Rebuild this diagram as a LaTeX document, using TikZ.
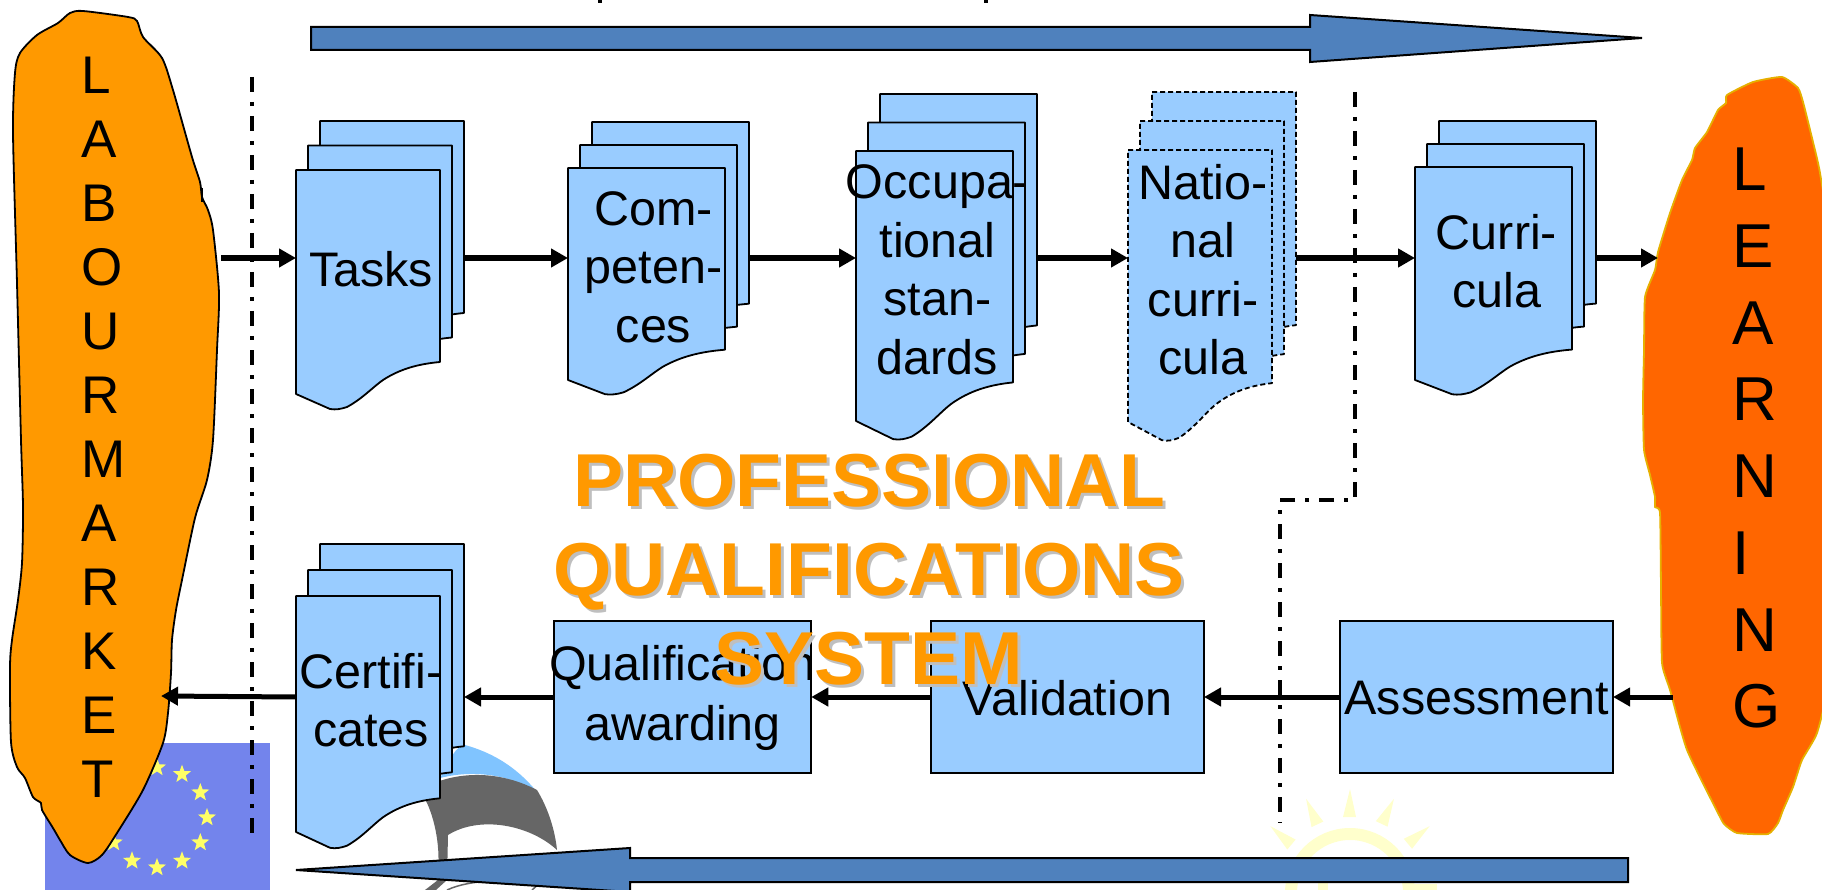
\documentclass[tikz,border=0pt]{standalone}
\usepackage{fontspec}
\setmainfont{Liberation Sans}
\usetikzlibrary{arrows.meta}
\usetikzlibrary{shapes.geometric}
\definecolor{sheetblue}{HTML}{99CCFF}
\definecolor{arrowblue}{HTML}{4F81BD}
\definecolor{marketorange}{HTML}{FF9900}
\definecolor{learnorange}{HTML}{FF6600}
\definecolor{learnedge}{HTML}{E6B000}
\definecolor{flagblue}{HTML}{7384EC}
\definecolor{flagstar}{HTML}{FFFF66}
\definecolor{swooshblue}{HTML}{80C4FF}
\definecolor{swooshgrey}{HTML}{666666}
\definecolor{sunyellow}{HTML}{FFFFCC}
\tikzset{sheet/.style={draw, fill=sheetblue, line width=1.8pt, line join=round}}
\tikzset{sheetarea/.style={rectangle, inner sep=0pt, outer sep=0pt}}
\tikzset{boxtext/.style={align=center, yshift=-1pt, font=\fontsize{48.5}{60}\selectfont}}
\tikzset{sheettext/.style={align=center, xshift=3pt, yshift=-3pt, font=\fontsize{48.5}{58.5}\selectfont}}
\tikzset{cell/.style={rectangle, draw, fill=sheetblue, line width=2pt, inner sep=0pt, outer sep=0pt}}
\tikzset{flow/.style={line width=5pt, -{Triangle[length=17pt,width=18pt]}}}
\tikzset{flowtop/.style={flow, line width=6pt, -{Triangle[length=17pt,width=18pt]}}}
\tikzset{gate/.style={line width=4.5pt, dash pattern=on 15pt off 10pt on 4pt off 10pt}}
\tikzset{blockarrow/.style={draw, fill=arrowblue, line width=2pt, line join=miter}}
\tikzset{eustar/.style={star, star points=5, star point ratio=2.4, fill=flagstar, inner sep=0pt, minimum size=19pt}}
\tikzset{sunray/.style={fill=sunyellow}}
\tikzset{title/.style={align=center, font=\fontsize{75}{89}\bfseries\selectfont}}
\newcommand{\docsheet}[5][]{
    \draw[sheet, #1, shift={(#2,#3)}, xscale=#4/144, yscale=#5/224]
        (0,0) -- (144,0) -- (144,192)
        .. controls (122,194) and (104,199) .. (87,210)
        .. controls (77,217) and (66,229) .. (51,237)
        .. controls (45,239) and (40,240) .. (34,239)
        -- (0,224) -- cycle;
}
\newcommand{\docstack}[8][]{
    \docsheet[#1]{#3+24}{#4-2*#7}{#5}{#6}
    \docsheet[#1]{#3+12}{#4-#7}{#5}{#6}
    \docsheet[#1]{#3}{#4}{#5}{#6}
    \node[sheetarea, minimum width=#5 pt, minimum height={0.857*#6 pt}] (#2-back) at (#3+24+#5/2, #4-2*#7+0.4285*#6) {};
    \node[sheetarea, minimum width=#5 pt, minimum height={0.857*#6 pt}, label={[sheettext]center:#8}] (#2) at (#3+#5/2, #4+0.4285*#6) {};
}
\begin{document}
\begin{tikzpicture}[x=1pt, y=-1pt]

    \useasboundingbox (0,0) rectangle (1822,890);

    \coordinate (upper) at (0,258);
    \coordinate (lower) at (0,697);
    \coordinate (market-in) at (221,258);
    \coordinate (market-out) at (161,696);
    \coordinate (learning-in) at (1658,258);
    \coordinate (learning-out) at (1673,697);

    \fill[black] (598,0) rectangle (602,3);
    \fill[black] (984,0) rectangle (988,3);

    \fill[flagblue] (45,743) rectangle (270,890);
    \foreach \a in {0,30,...,330}
        \node[eustar] (star\a) at ([shift={(157,817.5)}]\a:50) {};

    \fill[swooshblue] (440,778) .. controls (450,760) and (455,746) .. (465,745)
        .. controls (490,752) and (515,765) .. (537,792)
        .. controls (515,778) and (480,768) .. (440,778) -- cycle;
    \fill[swooshgrey] (420,790) .. controls (450,772) and (495,768) .. (537,790)
        .. controls (548,808) and (555,830) .. (557,850)
        .. controls (530,825) and (480,815) .. (448,835)
        -- (447,880) -- (437,880) .. controls (441,855) and (437,825) .. (427,803) -- cycle;
    \fill[swooshgrey] (438,880) -- (447,880) -- (436,890) -- (425,890) -- cycle;
    \draw[swooshgrey, line width=1.5pt] (447,890) .. controls (460,884) and (475,882) .. (490,881);
    \draw[swooshgrey, line width=1.5pt] (532,890) -- (541,882);

    \foreach \a in {-50,-25,0,25,50}
        \fill[sunray, rotate around={\a:(1350,893)}] (1343,817) -- (1350,789) -- (1356,817) -- cycle;
    \draw[sunyellow, line width=12pt] (1350,893) circle (59);
    \fill[sunyellow] (1318,880) rectangle (1328,890);
    \fill[sunyellow] (1405,884) rectangle (1437,890);

    \draw[fill=marketorange, line width=1.8pt] plot[smooth cycle, tension=.45] coordinates {
        (137,21) (128,17) (83,11) (70,13) (58,23) (37,35) (20,53) (15,73) (13,133) (17,283)
        (21,440) (23,507) (22,563) (18,600) (12,640) (10,667) (11,742) (17,767) (25,778)
        (33,797) (41,803) (42,810) (53,828) (60,840) (70,855) (88,863) (102,855) (117,833)
        (143,790) (163,743) (168,713) (171,673) (172,640) (176,610) (182,580) (195,518)
        (207,480) (213,440) (217,350) (219,293) (213,230) (208,210) (202,197) (200,182)
        (192,157) (173,90) (162,58) (143,37)};
    \draw[line width=1.8pt] (202,188) -- (202,202);
    \draw[learnedge, fill=learnorange, line width=1.8pt] plot[smooth cycle, tension=.3] coordinates {
        (1782,77) (1753,82) (1727,95) (1726,103) (1718,110) (1707,132) (1695,148) (1692,160)
        (1682,180) (1670,213) (1658,252) (1655,270) (1645,297) (1644,350) (1643,400) (1644,450)
        (1650,475) (1655,497) (1655,507) (1660,513) (1661,590) (1662,663) (1670,690) (1687,750)
        (1720,817) (1725,825) (1737,833) (1768,834) (1778,823) (1783,810) (1793,787) (1802,760)
        (1817,733) (1828,680) (1832,500) (1830,250) (1820,173) (1812,138) (1803,102) (1798,88)};
    \node[anchor=north west, inner sep=0pt, align=left, font=\fontsize{53}{64}\selectfont] (market) at (81,57)
        {L\\A\\B\\O\\U\\R\\M\\A\\R\\K\\E\\T};
    \node[anchor=north west, inner sep=0pt, align=left, font=\fontsize{62}{76.7}\selectfont] (learning) at (1732,148)
        {L\\E\\A\\R\\N\\I\\N\\G};

    \docstack{tasks}{296}{170}{144}{224}{24.5}{Tasks}
    \begin{scope}[every label/.append style={xshift=4pt, yshift=-5pt}]
        \docstack{competences}{568}{168}{157}{212}{23}{Com-\\peten-\\ces}
    \end{scope}
    \docstack{standards}{856}{151}{157}{270}{28.5}{Occupa-\\tional\\stan-\\dards}
    \docstack[dashed, dash pattern=on 5pt off 3pt]{national}{1128}{150}{144}{272}{29}{Natio-\\nal\\curri-\\cula}
    \docstack{curricula}{1415}{167}{157}{213}{23}{Curri-\\cula}
    \docstack{certificates}{296}{596}{144}{236}{26}{Certifi-\\cates}

    \node[cell, minimum width=257.5pt, minimum height=152.5pt, label={[boxtext]center:Qualification\\awarding}] (awarding) at (682.5,697) {};
    \node[cell, minimum width=273pt, minimum height=152.5pt, label={[boxtext]center:Validation}] (validation) at (1067.5,697) {};
    \node[cell, minimum width=273pt, minimum height=152.5pt, label={[boxtext]center:Assessment}] (assessment) at (1476.5,697) {};

    \coordinate (gateleft-top) at (252,77);
    \coordinate (gateleft-end) at (252,840);
    \coordinate (gateright-top) at (1355,92);
    \coordinate (gateright-mid) at (1355,500);
    \coordinate (gateright-low) at (1280,500);
    \coordinate (gateright-end) at (1280,823);
    \draw[gate] (gateleft-top) -- (gateleft-end);
    \draw[gate] (gateright-top) -- (gateright-mid) -- (gateright-low) -- (gateright-end);

    \draw[flowtop] (market-in) -- (tasks.west |- upper);
    \draw[flowtop] (tasks-back.east |- upper) -- (competences.west |- upper);
    \draw[flowtop] (competences-back.east |- upper) -- (standards.west |- upper);
    \draw[flowtop] (standards-back.east |- upper) -- (national.west |- upper);
    \draw[flowtop] (national-back.east |- upper) -- (curricula.west |- upper);
    \draw[flowtop] (curricula-back.east |- upper) -- (learning-in);
    \draw[flow] (learning-out) -- (assessment.east);
    \draw[flow] (assessment.west) -- (validation.east);
    \draw[flow] (validation.west) -- (awarding.east);
    \draw[flow] (awarding.west) -- (certificates-back.east |- lower);
    \draw[flow] (certificates.west |- lower) -- (market-out);

    \draw[blockarrow] (311,27) -- (1310,27) -- (1310,15) -- (1642,38) -- (1310,62) -- (1310,50) -- (311,50) -- cycle;
    \draw[blockarrow] (1628,858) -- (630,858) -- (630,848) -- (296,870) -- (630,892) -- (630,882) -- (1628,882) -- cycle;

    \node[title, text=black!25] (title-shadow) at (872,573) {PROFESSIONAL\\QUALIFICATIONS\\SYSTEM};
    \node[title, text=marketorange] (title-main) at (869,570) {PROFESSIONAL\\QUALIFICATIONS\\SYSTEM};

\end{tikzpicture}
\end{document}
